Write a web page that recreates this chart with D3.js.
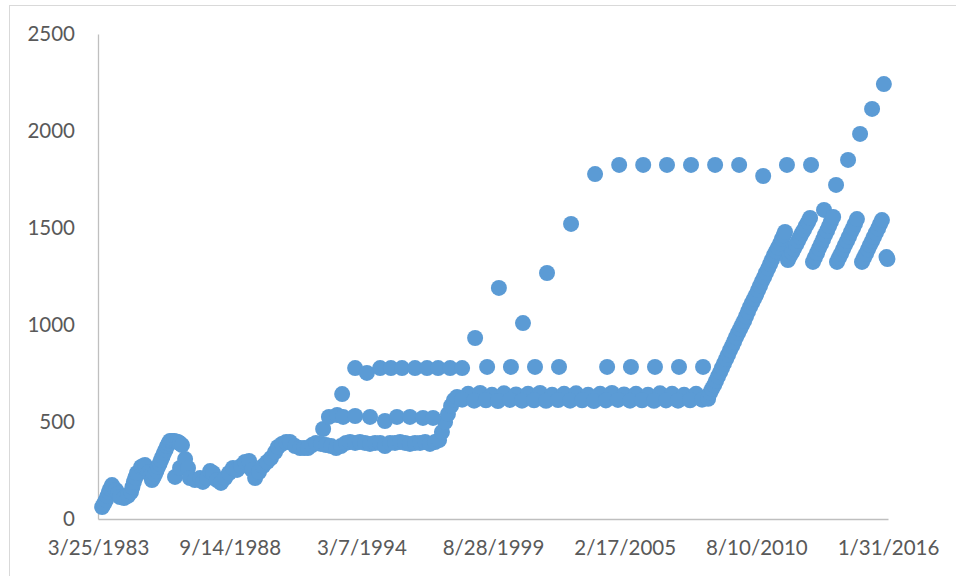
<!DOCTYPE html>
<html>
<head>
<meta charset="utf-8">
<script src="https://cdn.jsdelivr.net/npm/d3@7"></script>
<style>
  body { margin: 0; background: #fff; }
  .axis text { font-family: Lato, "Open Sans", sans-serif; font-size: 20.5px; fill: #595959; }
  .axis path { stroke: #bfbfbf; stroke-width: 1.3; }
</style>
</head>
<body>
<div id="chart"></div>
<script>
// values: [decimal year, value]
var earlyBand = [
  [1983.40, 62], [1983.48, 80], [1983.56, 98], [1983.62, 118], [1983.68, 139], [1983.74, 157],
  [1983.81, 175], [1983.98, 149], [1984.06, 130], [1984.14, 113], [1984.31, 108], [1984.47, 119],
  [1984.60, 139], [1984.66, 165], [1984.72, 191], [1984.78, 214], [1984.85, 237], [1985.02, 268],
  [1985.10, 273], [1985.18, 278], [1985.35, 242], [1985.41, 222], [1985.47, 201], [1985.54, 216],
  [1985.60, 232], [1985.66, 250], [1985.72, 268], [1985.79, 286], [1985.85, 304], [1985.91, 322],
  [1985.97, 340], [1986.04, 358], [1986.10, 376], [1986.16, 390], [1986.22, 402], [1986.30, 402],
  [1986.39, 402], [1986.47, 400], [1986.55, 397], [1986.63, 390], [1986.72, 381]
];

var dipBand = [
  [1986.43, 217], [1986.64, 263], [1986.85, 309], [1986.97, 263], [1987.05, 211], [1987.26, 201],
  [1987.47, 211], [1987.59, 191], [1987.76, 211], [1987.89, 247], [1988.01, 237], [1988.18, 201],
  [1988.34, 186], [1988.51, 211], [1988.68, 237], [1988.84, 263], [1989.01, 253], [1989.17, 273],
  [1989.34, 294], [1989.51, 299], [1989.63, 253], [1989.76, 211], [1989.92, 242], [1990.09, 273],
  [1990.26, 294], [1990.42, 314], [1990.59, 345], [1990.71, 371], [1990.88, 387], [1991.05, 397],
  [1991.21, 397], [1991.42, 376], [1991.63, 366], [1991.80, 366], [1991.96, 366], [1992.13, 381],
  [1992.29, 392], [1992.50, 387], [1992.71, 381], [1992.92, 376], [1993.13, 366], [1993.33, 376],
  [1993.54, 392]
];

var midBand = [
  [1993.71, 397], [1993.92, 392], [1994.12, 397], [1994.33, 392], [1994.54, 387], [1994.75, 392],
  [1994.96, 392], [1995.16, 376], [1995.37, 392], [1995.58, 392], [1995.79, 397], [1996.00, 392],
  [1996.20, 387], [1996.41, 392], [1996.62, 392], [1996.83, 397], [1997.03, 387], [1997.24, 397],
  [1997.41, 407], [1997.53, 448], [1997.66, 500], [1997.78, 541], [1997.91, 583], [1998.03, 613],
  [1998.16, 629]
];

var row520 = [
  [1992.59, 464], [1992.83, 526], [1993.17, 536], [1993.38, 644], [1993.42, 526], [1993.92, 531],
  [1994.54, 526], [1995.16, 505], [1995.66, 526], [1996.20, 526], [1996.74, 521], [1997.16, 521]
];

var row780 = [
  [1993.92, 778], [1994.41, 753], [1994.96, 778], [1995.41, 778], [1995.87, 778], [1996.41, 778],
  [1996.91, 778], [1997.37, 778], [1997.87, 778], [1998.37, 778], [1999.41, 784], [2000.40, 784],
  [2001.40, 784], [2002.40, 784], [2004.40, 784], [2005.39, 784], [2006.39, 784], [2007.39, 784],
  [2008.39, 784]
];

var upperDots = [
  [1998.91, 933], [1999.90, 1191], [2000.90, 1010], [2001.90, 1268], [2002.90, 1521], [2003.90, 1778],
  [2004.90, 1825], [2005.90, 1825], [2006.89, 1825], [2007.89, 1825], [2008.89, 1825], [2009.89, 1825],
  [2010.89, 1768], [2011.88, 1825], [2012.88, 1825], [2013.42, 1593], [2013.92, 1722], [2014.42, 1851],
  [2014.92, 1985], [2015.42, 2114], [2015.91, 2242]
];

var flatTop = [
  [1998.62, 645], [1999.12, 650], [1999.61, 640], [2000.11, 648], [2000.61, 642], [2001.11, 645],
  [2001.61, 650], [2002.11, 640], [2002.61, 645], [2003.11, 648], [2003.61, 640], [2004.11, 645],
  [2004.60, 650], [2005.10, 642], [2005.60, 645], [2006.10, 640], [2006.60, 648], [2007.10, 645],
  [2007.60, 640], [2008.10, 645]
];

var flatBottom = [
  [1998.37, 615], [1998.87, 610], [1999.36, 612], [1999.86, 608], [2000.36, 614], [2000.86, 610],
  [2001.36, 612], [2001.86, 609], [2002.36, 613], [2002.86, 610], [2003.36, 612], [2003.85, 608],
  [2004.35, 611], [2004.85, 614], [2005.35, 610], [2005.85, 612], [2006.35, 609], [2006.85, 611],
  [2007.35, 610], [2007.85, 612], [2008.35, 615], [2008.60, 620]
];

var riseBand = [
  [2008.68, 650], [2008.76, 670], [2008.85, 690], [2008.93, 712], [2009.01, 735], [2009.10, 757],
  [2009.18, 780], [2009.26, 802], [2009.35, 825], [2009.43, 847], [2009.51, 870], [2009.60, 892],
  [2009.68, 915], [2009.76, 937], [2009.85, 960], [2009.93, 980], [2010.01, 1000], [2010.10, 1022],
  [2010.18, 1045], [2010.26, 1070], [2010.35, 1095], [2010.43, 1115], [2010.51, 1135], [2010.60, 1157],
  [2010.68, 1180], [2010.76, 1202], [2010.84, 1225], [2010.93, 1247], [2011.01, 1270], [2011.10, 1292],
  [2011.18, 1315], [2011.26, 1337], [2011.34, 1360], [2011.43, 1380], [2011.51, 1400], [2011.60, 1422],
  [2011.68, 1445], [2011.74, 1462], [2011.80, 1480]
];

var sawBand = [
  [2011.92, 1335], [2012.00, 1355], [2012.09, 1374], [2012.17, 1394], [2012.26, 1414], [2012.34, 1434],
  [2012.42, 1454], [2012.50, 1473], [2012.59, 1492], [2012.67, 1512], [2012.76, 1531], [2012.84, 1552],
  [2012.96, 1325], [2013.04, 1348], [2013.13, 1371], [2013.21, 1395], [2013.30, 1418], [2013.38, 1441],
  [2013.46, 1464], [2013.55, 1487], [2013.63, 1510], [2013.71, 1533], [2013.80, 1557],
  [2013.96, 1325], [2014.04, 1346], [2014.13, 1368], [2014.21, 1390], [2014.29, 1412], [2014.38, 1434],
  [2014.46, 1456], [2014.54, 1478], [2014.63, 1500], [2014.71, 1523], [2014.79, 1546],
  [2015.00, 1325], [2015.08, 1346], [2015.17, 1368], [2015.25, 1390], [2015.33, 1412], [2015.42, 1433],
  [2015.50, 1455], [2015.58, 1476], [2015.67, 1498], [2015.75, 1520], [2015.83, 1541],
  [2016.02, 1350], [2016.06, 1340]
];

var yTicks = [0, 500, 1000, 1500, 2000, 2500];
var xTickLabels = ["3/25/1983", "9/14/1988", "3/7/1994", "8/28/1999", "2/17/2005", "8/10/2010", "1/31/2016"];

var allPoints = [].concat(earlyBand, dipBand, midBand, row520, row780, upperDots,
  flatTop, flatBottom, riseBand, sawBand);

function yearToDate(y) {
  var yr = Math.floor(y);
  var start = new Date(yr, 0, 1);
  var end = new Date(yr + 1, 0, 1);
  return new Date(start.getTime() + (y - yr) * (end - start));
}

var svgWidth = 956;
var svgHeight = 576;

var svg = d3.select("#chart")
  .append("svg")
  .attr("width", svgWidth)
  .attr("height", svgHeight);

// chart frame
svg.append("rect")
  .attr("x", 9.5)
  .attr("y", 5.5)
  .attr("width", 1000)
  .attr("height", 600)
  .attr("fill", "none")
  .attr("stroke", "#d9d9d9");

var parseTick = d3.timeParse("%m/%d/%Y");
var tickDates = xTickLabels.map(parseTick);

var xScale = d3.scaleTime()
  .domain([tickDates[0], tickDates[tickDates.length - 1]])
  .range([98, 888]);

var yScale = d3.scaleLinear()
  .domain([0, 2500])
  .range([519, 34]);

var xAxis = svg.append("g")
  .attr("class", "axis")
  .attr("transform", "translate(0,519)")
  .call(d3.axisBottom(xScale)
    .tickValues(tickDates)
    .tickFormat(d3.timeFormat("%-m/%-d/%Y"))
    .tickSizeInner(0)
    .tickSizeOuter(0)
    .tickPadding(21));

var yAxis = svg.append("g")
  .attr("class", "axis")
  .attr("transform", "translate(98,0)")
  .call(d3.axisLeft(yScale)
    .tickValues(yTicks)
    .tickFormat(d3.format("d"))
    .tickSizeInner(0)
    .tickSizeOuter(0)
    .tickPadding(23));

svg.selectAll(".axis .tick line").remove();

svg.append("g")
  .selectAll("circle")
  .data(allPoints)
  .enter()
  .append("circle")
  .attr("cx", d => xScale(yearToDate(d[0])))
  .attr("cy", d => yScale(d[1]))
  .attr("r", 8)
  .attr("fill", "#5b9bd5");
</script>
</body>
</html>
